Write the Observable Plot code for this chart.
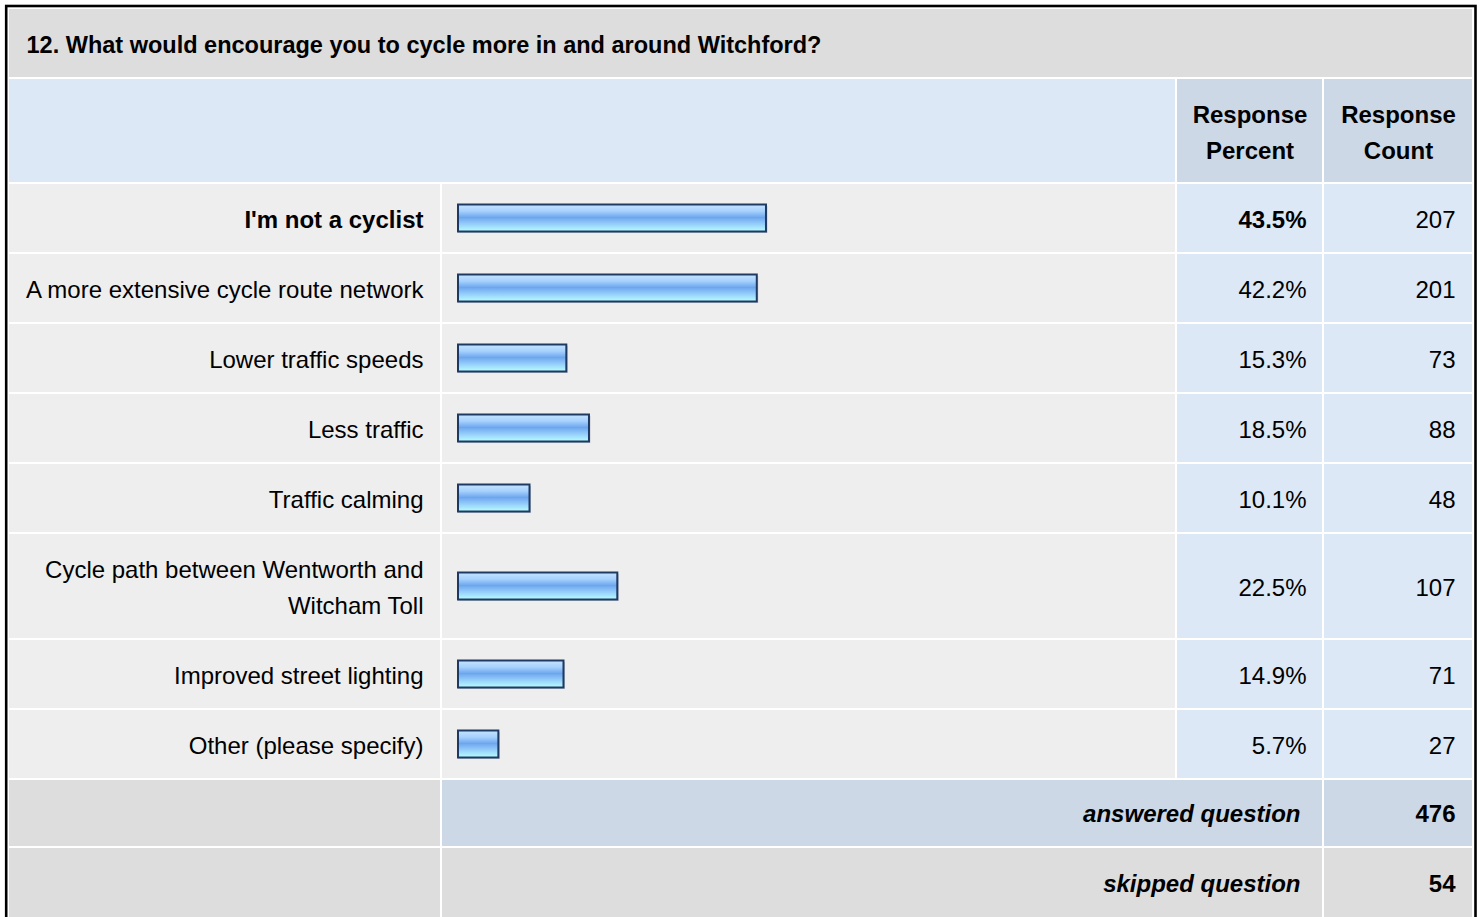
<!DOCTYPE html>
<html>
<head>
<meta charset="utf-8">
<script src="https://cdn.jsdelivr.net/npm/d3@7"></script>
<script src="https://cdn.jsdelivr.net/npm/@observablehq/plot@0.6"></script>
<style>
  html, body { margin: 0; padding: 0; background: #ffffff; }
  #chart svg { display: block; }
</style>
</head>
<body>
<div id="chart"></div>
<script>
// ---- data ----
const title = "12. What would encourage you to cycle more in and around Witchford?";
const headerLabels = ["Response\nPercent", "Response\nCount"];
const categories = [
  "I'm not a cyclist",
  "A more extensive cycle route network",
  "Lower traffic speeds",
  "Less traffic",
  "Traffic calming",
  "Cycle path between Wentworth and\nWitcham Toll",
  "Improved street lighting",
  "Other (please specify)"
];
const percents = [43.5, 42.2, 15.3, 18.5, 10.1, 22.5, 14.9, 5.7];
const counts = [207, 201, 73, 88, 48, 107, 71, 27];
const summaryLabels = ["answered question", "skipped question"];
const summaryCounts = [476, 54];

// ---- layout ----
const W = 1480, H = 917;
const FONT = "'Liberation Sans', Arial, Helvetica, sans-serif";
const FS = 24, LH = 36;
const col = {label: [9, 440], bar: [442, 1175], pct: [1177, 1322], cnt: [1324, 1472]};
const C = {title: "#dddddd", head: "#dce8f5", headDark: "#ccd8e6", cell: "#eeeeee", num: "#dce8f5", foot: "#dddddd"};

const xPct = Plot.scale({x: {domain: [0, 100], range: [458, 1166]}});
const maxPct = d3.max(percents);

const cells = [];
const texts = [];
const bars = [];

// title row
cells.push({x1: 9, x2: 1472, y1: 9, y2: 77, fill: C.title});
texts.push({x: 26, y: 45, text: title, anchor: "start", weight: "bold", style: "normal", size: 23.5});

// header row
cells.push({x1: 9, x2: 1175, y1: 79, y2: 182, fill: C.head});
cells.push({x1: col.pct[0], x2: col.pct[1], y1: 79, y2: 182, fill: C.headDark});
cells.push({x1: col.cnt[0], x2: col.cnt[1], y1: 79, y2: 182, fill: C.headDark});
headerLabels.forEach((h, i) => {
  const c = i === 0 ? col.pct : col.cnt;
  const lines = h.split("\n");
  const mid = (79 + 182) / 2 + 2;
  lines.forEach((ln, j) => {
    texts.push({x: (c[0] + c[1]) / 2, y: mid + (j - (lines.length - 1) / 2) * LH, text: ln, anchor: "middle", weight: "bold", style: "normal", size: FS});
  });
});

// data rows
let rowTop = 184;
categories.forEach((cat, i) => {
  const lines = cat.split("\n");
  const h = 32 + LH * lines.length;
  const y1 = rowTop, y2 = rowTop + h, mid = (y1 + y2) / 2;
  const bold = percents[i] === maxPct ? "bold" : "normal";
  cells.push({x1: col.label[0], x2: col.label[1], y1, y2, fill: C.cell});
  cells.push({x1: col.bar[0], x2: col.bar[1], y1, y2, fill: C.cell});
  cells.push({x1: col.pct[0], x2: col.pct[1], y1, y2, fill: C.num});
  cells.push({x1: col.cnt[0], x2: col.cnt[1], y1, y2, fill: C.num});
  lines.forEach((ln, j) => {
    texts.push({x: 423, y: mid + 2 + (j - (lines.length - 1) / 2) * LH, text: ln, anchor: "end", weight: bold, style: "normal", size: FS});
  });
  texts.push({x: 1306, y: mid + 2, text: percents[i].toFixed(1) + "%", anchor: "end", weight: bold, style: "normal", size: FS});
  texts.push({x: 1455, y: mid + 2, text: String(counts[i]), anchor: "end", weight: "normal", style: "normal", size: FS});
  bars.push({pct: percents[i], y1: mid - 13.5, y2: mid + 13.5});
  rowTop = y2 + 2;
});

// summary rows
summaryLabels.forEach((lab, i) => {
  const h = i === 0 ? 66 : 80;
  const y1 = rowTop, y2 = rowTop + h, mid = y1 + 34 + (i === 0 ? 0 : 2);
  cells.push({x1: col.label[0], x2: col.label[1], y1, y2, fill: C.foot});
  cells.push({x1: col.bar[0], x2: col.pct[1], y1, y2, fill: i === 0 ? C.headDark : C.foot});
  cells.push({x1: col.cnt[0], x2: col.cnt[1], y1, y2, fill: i === 0 ? C.headDark : C.foot});
  texts.push({x: 1300, y: mid, text: lab, anchor: "end", weight: "bold", style: "italic", size: FS});
  texts.push({x: 1455, y: mid, text: String(summaryCounts[i]), anchor: "end", weight: "bold", style: "normal", size: FS});
  rowTop = y2 + 2;
});

const textMark = (data) => Plot.text(data, {
  x: "x", y: "y", text: "text", textAnchor: data[0].anchor,
  fontWeight: data[0].weight, fontStyle: data[0].style,
  fontSize: data[0].size, fontFamily: FONT, fill: "#000000"
});
const groups = d3.groups(texts, d => [d.anchor, d.weight, d.style, d.size].join("|")).map(g => g[1]);

const plot = Plot.plot({
  width: W, height: H,
  margin: 0,
  x: {type: "identity"},
  y: {type: "identity"},
  style: {background: "#ffffff", fontFamily: FONT},
  marks: [
    Plot.rect(cells, {x1: "x1", x2: "x2", y1: "y1", y2: "y2", fill: "fill"}),
    Plot.rect([{x1: 6.2, x2: 1475.5, y1: 6, y2: 930}], {x1: "x1", x2: "x2", y1: "y1", y2: "y2", fill: "none", stroke: "#000000", strokeWidth: 2.6}),
    // faint drop shadow under each bar
    Plot.rect(bars, {
      x1: () => xPct.apply(0), x2: d => xPct.apply(d.pct) + 1.5, y1: d => d.y1 + 1.5, y2: d => d.y2 + 1.5,
      fill: "#c4c8d2"
    }),
    Plot.rect(bars, {
      x1: () => xPct.apply(0), x2: d => xPct.apply(d.pct), y1: "y1", y2: "y2",
      fill: "url(#barGrad)", stroke: "#1f3a62", strokeWidth: 2
    }),
    ...groups.map(textMark)
  ]
});

// gradient for the bars
const ns = "http://www.w3.org/2000/svg";
const defs = document.createElementNS(ns, "defs");
const grad = document.createElementNS(ns, "linearGradient");
grad.setAttribute("id", "barGrad");
grad.setAttribute("x1", "0"); grad.setAttribute("y1", "0");
grad.setAttribute("x2", "0"); grad.setAttribute("y2", "1");
[["0", "#c6e4ff"], ["0.25", "#a6d0fd"], ["0.48", "#6ea6ee"], ["0.7", "#92caf9"], ["1", "#b8ffff"]].forEach(([o, c]) => {
  const s = document.createElementNS(ns, "stop");
  s.setAttribute("offset", o); s.setAttribute("stop-color", c);
  grad.appendChild(s);
});
defs.appendChild(grad);
plot.insertBefore(defs, plot.firstChild);

document.getElementById("chart").appendChild(plot);
</script>
</body>
</html>
